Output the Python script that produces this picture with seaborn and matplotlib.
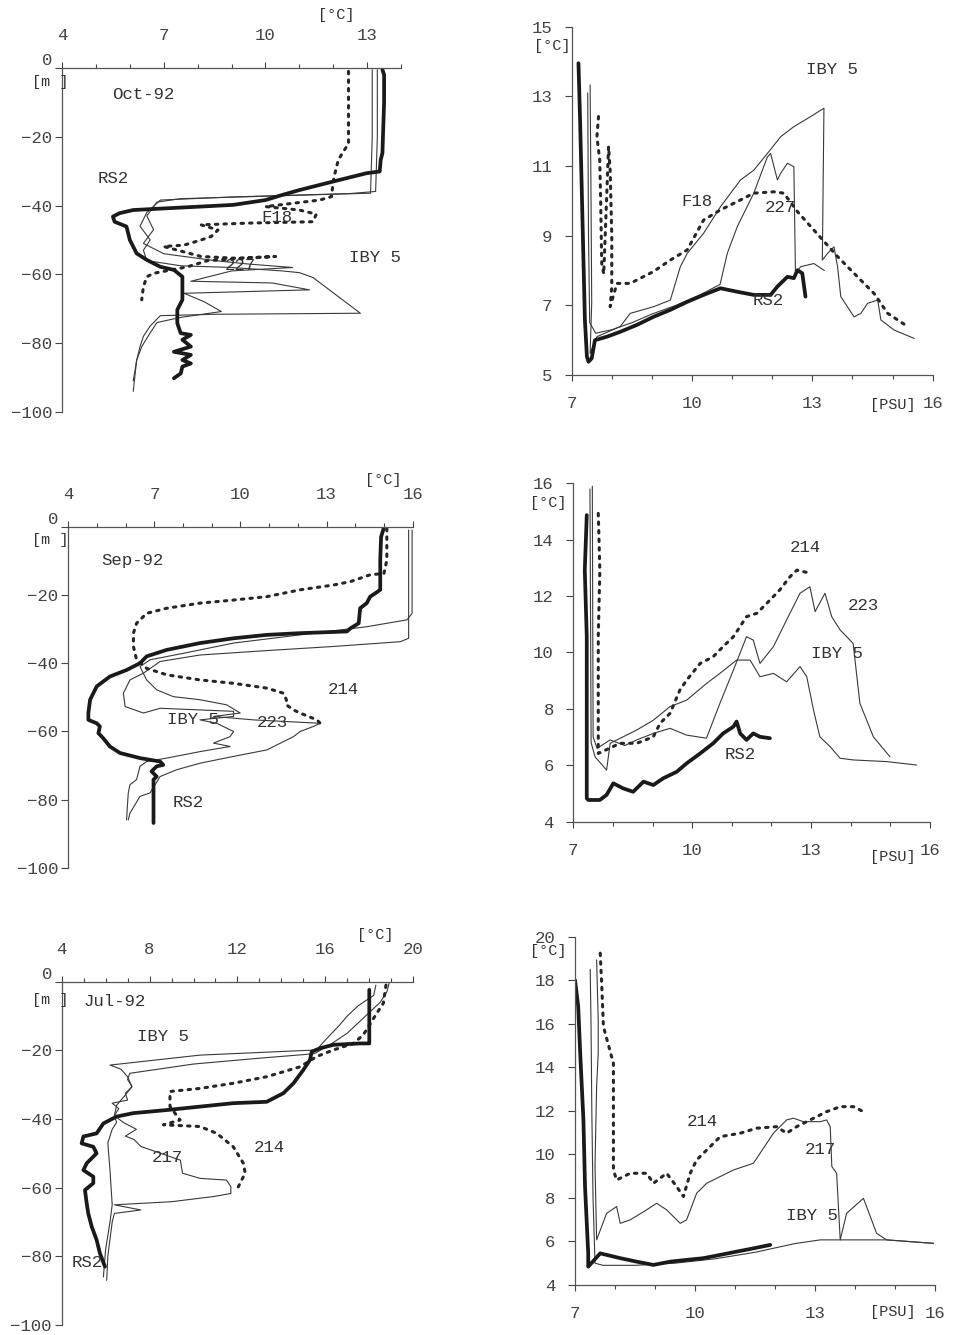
import numpy as np
import pandas as pd
import matplotlib
matplotlib.use("Agg")
import matplotlib.pyplot as plt
import seaborn as sns

sns.set_style("ticks")
plt.rcParams['font.family'] = ['Liberation Mono', 'DejaVu Sans']
plt.rcParams['text.color'] = '#333333'
plt.rcParams['xtick.color'] = '#444444'
plt.rcParams['ytick.color'] = '#444444'

# ---------------- Temperature profiles (T [degC], depth [m]) ----------------
# Oct-92
OCT_RS2_T = [13.45, 13.5, 13.5, 13.45, 13.4, 13.37, 12.98, 12.0, 11.0, 10.5, 10.0, 9.05, 8.07, 7.08, 6.1, 5.7,
             5.5, 5.55, 5.9, 6.0, 6.2, 6.5, 6.9, 7.3, 7.55, 7.55, 7.4, 7.4, 7.5, 7.8, 7.55, 7.8, 7.3, 7.8,
             7.55, 7.8, 7.55, 7.5, 7.3]
OCT_RS2_D = [-0.5, -2, -10, -24.8, -26.7, -30.1, -30.6, -33, -35.5, -36.9, -38.4, -39.8, -40.3, -40.8, -41.3,
             -42.2, -43.2, -44.7, -46.1, -50, -53.9, -55.8, -57.8, -58.7, -60.7, -67.4, -70.3, -74.2, -77.1,
             -77.6, -79, -81, -82.5, -83.4, -84.9, -85.9, -86.8, -88.8, -90.2]
OCT_F18_T = [12.45, 12.45, 12.3, 12.15, 12.05, 12.0, 11.95, 11.6, 10.0, 11.0, 11.5, 11.4, 9.5, 8.1, 8.6,
             8.4, 8.1, 7.6, 7.0, 8.1, 9.1, 10.3, 8.3, 7.7, 6.7, 6.5, 6.4, 6.35]
OCT_F18_D = [-1, -22, -24.3, -26.7, -30.6, -33, -37.4, -38.4, -40.3, -41.3, -42.5, -44.7, -45.1, -45.6, -47.1,
             -49, -50, -51.5, -51.9, -54.8, -55.3, -54.8, -56, -57.8, -59.7, -60.7, -63.6, -67.4]
OCT_IBY5_T = [13.3, 13.3, 13.25, 12.5, 9.0, 6.9, 6.5, 6.3, 6.6, 6.4, 6.5, 7.5, 9.0, 10.5, 11.0, 11.4, 12.8,
              8.5, 6.9, 6.6, 6.4, 6.3, 6.2, 6.1]
OCT_IBY5_D = [-0.5, -20, -35.9, -36.5, -37.5, -38.4, -42, -46, -50, -53, -56, -57.5, -58, -59, -59.5, -60.9,
              -71.3, -71.6, -72, -75, -78, -81, -85, -91]
OCT_227_T = [13.15, 13.15, 13.1, 11.0, 7.5, 6.8, 6.5, 6.7, 6.4, 7.0, 8.5, 9.5, 10.8, 9.0, 7.8, 10.2, 11.3,
             7.6, 8.2, 8.7, 7.5, 6.8, 6.6, 6.35, 6.2, 6.1]
OCT_227_D = [-0.5, -20, -36.4, -37, -38, -39, -43, -47, -51, -54, -56, -57, -58, -59, -62, -62.5, -64.5,
             -65.5, -68, -70.8, -72.5, -74, -77, -81, -85, -94]

# Sep-92
SEP_RS2_T = [14.99, 14.9, 14.87, 14.87, 14.7, 14.52, 14.4, 14.17, 14.12, 13.83, 13.71, 12.08, 10.92, 9.76,
             8.59, 7.43, 6.73, 6.5, 6.03, 5.45, 4.99, 4.76, 4.7, 4.7, 4.99, 5.1, 5.05, 5.22, 5.45, 5.8, 6.5,
             7.2, 7.31, 7.08, 6.9, 7.08, 6.97, 6.97, 6.97]
SEP_RS2_D = [-0.5, -3, -9.8, -18.5, -19.5, -20.5, -22.4, -23.9, -28.3, -29.8, -30.7, -31.2, -31.7, -32.7,
             -34.1, -36.1, -38, -40, -42, -43.9, -46.8, -50.7, -54.6, -56.6, -57.6, -58.5, -60.5, -62, -64.4,
             -66.3, -67.8, -68.8, -69.8, -70.2, -71.7, -73.2, -74.1, -78, -86.8]
SEP_214_T = [15.1, 15.1, 15.0, 14.52, 13.83, 13.24, 12.08, 10.92, 9.76, 8.59, 7.43, 6.73, 6.38, 6.27, 6.27,
             6.38, 6.73, 7.43, 8.59, 9.76, 10.92, 11.5, 11.6, 11.6, 11.85, 12.08, 12.66, 12.78, 12.66]
SEP_214_D = [-0.5, -9.8, -13.7, -14.1, -16.1, -17.1, -18.5, -20.5, -21.5, -22.4, -23.9, -25.4, -28.3, -31.2,
             -35.1, -39, -41.5, -43.4, -44.9, -45.9, -47.3, -48.8, -50.7, -52.2, -53.7, -54.6, -56.6, -57.6,
             -58.5]
SEP_223_T = [15.98, 15.98, 15.8, 14.41, 12.08, 9.76, 8.01, 6.85, 6.5, 6.73, 7.08, 7.66, 8.59, 9.52, 9.99,
             9.06, 10.45, 12.78, 12.55, 12.08, 11.85, 10.92, 9.76, 8.59, 7.78, 7.2, 6.85, 6.5, 6.15, 6.09]
SEP_223_D = [-1, -25.4, -27.3, -29.3, -31.7, -34.1, -37.1, -39.0, -41, -44.9, -47.8, -49.8, -50.7, -52.2,
             -54.6, -55.6, -56.6, -57.6, -58.5, -60, -61.5, -65.4, -67.3, -69.3, -71.2, -73.2, -78, -79,
             -83.9, -85.9]
SEP_IBY5_T = [15.86, 15.86, 15.57, 13.24, 10.92, 8.59, 7.2, 6.62, 6.15, 5.92, 5.98, 6.62, 7.2, 9.76, 9.76,
              8.59, 9.17, 9.76, 9.64, 9.06, 9.64, 8.59, 7.43, 6.73, 6.5, 6.38, 6.15, 6.09, 6.03]
SEP_IBY5_D = [-1, -32.7, -33.7, -35.1, -36.3, -37.6, -39.5, -42.9, -44.9, -48.8, -52.7, -54.6, -53.2, -54.1,
              -55.6, -56.6, -57.6, -60, -61.5, -63.4, -64.4, -65.9, -67.8, -68.8, -70.2, -74.1, -75.6, -78,
              -85.9]

# Jul-92
JUL_RS2_T = [18.0, 18.0, 17.58, 16.37, 15.76, 15.38, 15.3, 15.0, 14.55, 14.09, 13.33, 11.81, 10.3, 8.78,
             7.26, 6.5, 5.9, 5.59, 4.99, 4.91, 5.44, 5.59, 5.14, 4.99, 5.44, 5.44, 5.06, 5.14, 5.21, 5.37,
             5.59, 5.74, 5.97]
JUL_RS2_D = [-2.4, -18, -18, -18.4, -19.4, -20.4, -22.8, -25.7, -29.6, -32.5, -35, -35.4, -36.4, -37.4,
             -38.3, -39.3, -41.3, -44.2, -45.1, -47.1, -48.1, -50, -52.9, -54.9, -56.8, -58.7, -60.7, -64.6,
             -67.5, -71.4, -75.2, -79.1, -83]
JUL_214_T = [18.76, 18.64, 18.34, 17.96, 17.73, 17.28, 16.37, 15.61, 14.85, 13.33, 11.81, 10.3, 8.93, 8.93,
             9.39, 8.63, 10.3, 11.06, 11.81, 12.27, 12.35, 12.12, 11.97]
JUL_214_D = [-1, -6.3, -9.2, -13.1, -15.5, -18, -19.9, -21.8, -24.8, -27.7, -29.6, -31.1, -32, -36.4, -40.3,
             -41.7, -42.2, -44.2, -48.1, -52.9, -55.8, -58.7, -60.7]
JUL_IBY5_T = [18.3, 18.2, 17.5, 17.0, 16.6, 16.0, 15.6, 10.3, 6.2, 6.7, 7.0, 7.2, 6.9, 7.0, 6.3, 6.6, 6.4,
              6.5, 6.3, 6.1, 6.2, 6.3, 6.2, 6.0, 5.9]
JUL_IBY5_D = [-1, -4, -7, -10, -13, -17, -19.9, -21.4, -24.3, -25.5, -27.7, -30.6, -32.5, -34.5, -35.4, -37,
              -39, -41, -43, -47, -55, -65, -70, -78, -86]
JUL_217_T = [18.9, 18.8, 18.5, 18.0, 17.5, 17.0, 16.3, 15.5, 13.0, 10.0, 7.1, 7.0, 7.2, 6.9, 6.5, 6.4, 6.8,
             7.4, 6.9, 7.3, 7.6, 8.5, 9.4, 9.5, 10.3, 11.5, 11.7, 11.7, 10.9, 9.0, 6.4, 7.6, 6.4, 6.3, 6.2,
             6.1, 6.05]
JUL_217_D = [-0.5, -3, -6, -9, -12, -15, -18, -21, -22.3, -24, -26.7, -28.5, -30.6, -33, -36, -39, -41, -43,
             -45, -46, -48, -50, -52, -55.8, -57.3, -57.8, -59.7, -61.7, -62.6, -64.1, -65, -66.5, -67.5,
             -70, -75, -80, -87]

# ---------------- T-S diagrams (S [PSU], T [degC]) ----------------
OCT_TS_RS2_S = [7.17, 7.21, 7.25, 7.29, 7.33, 7.38, 7.42, 7.5, 7.58, 7.88, 8.21, 8.63, 9.04, 9.46, 9.88,
                10.29, 10.71, 11.13, 11.54, 11.96, 12.13, 12.38, 12.54, 12.63, 12.75, 12.83]
OCT_TS_RS2_T = [13.95, 12.32, 10.41, 8.49, 6.58, 5.53, 5.38, 5.48, 6.0, 6.1, 6.24, 6.44, 6.67, 6.87, 7.1,
                7.3, 7.49, 7.39, 7.3, 7.3, 7.54, 7.82, 7.78, 8.01, 7.92, 7.25]
OCT_TS_F18_S = [7.67, 7.63, 7.7, 7.72, 7.75, 7.8, 7.92, 7.96, 8.0, 8.0, 7.96, 8.13, 8.46, 9.04, 9.46, 9.88,
                10.29, 10.71, 11.13, 11.54, 12.04, 12.29, 12.63, 13.04, 13.63, 14.04, 14.54, 14.88, 15.38]
OCT_TS_F18_T = [12.42, 11.84, 11.17, 10.2, 8.2, 7.9, 11.56, 10.88, 9.0, 7.54, 6.96, 7.63, 7.63, 7.97, 8.3,
                8.59, 9.45, 9.74, 9.98, 10.22, 10.26, 10.22, 9.69, 9.16, 8.4, 7.92, 7.34, 6.77, 6.39]
OCT_TS_IBY5_S = [7.46, 7.48, 7.5, 7.46, 7.63, 8.21, 8.46, 9.04, 9.46, 9.71, 9.88, 10.29, 10.71, 11.21, 11.54,
                 11.88, 12.21, 12.54, 12.96, 13.29, 13.25, 13.38, 13.54, 13.63, 13.71, 14.04, 14.21, 14.38,
                 14.63, 14.71, 15.04, 15.54]
OCT_TS_IBY5_T = [13.33, 10.5, 7.06, 5.62, 6.1, 6.39, 6.77, 6.96, 7.15, 8.11, 8.49, 9.07, 9.83, 10.6, 10.88,
                 11.36, 11.84, 12.13, 12.42, 12.66, 8.3, 8.49, 8.68, 8.11, 7.25, 6.67, 6.77, 7.06, 7.15, 6.58,
                 6.29, 6.05]
OCT_TS_227_S = [7.4, 7.42, 7.45, 7.6, 8.0, 8.5, 9.0, 9.6, 10.2, 10.7, 10.88, 11.13, 11.54, 11.88, 11.96,
                12.13, 12.21, 12.38, 12.54, 12.58, 12.71, 13.04, 13.3]
OCT_TS_227_T = [13.1, 9.0, 6.5, 6.2, 6.3, 6.5, 6.75, 7.0, 7.3, 7.6, 8.49, 9.26, 10.22, 11.26, 11.36, 10.6,
                10.79, 11.08, 10.98, 7.92, 8.11, 8.2, 8.0]

SEP_TS_RS2_S = [7.34, 7.29, 7.34, 7.34, 7.34, 7.38, 7.67, 7.84, 8.01, 8.26, 8.51, 8.77, 9.02, 9.27, 9.61,
                9.86, 10.2, 10.53, 10.78, 11.04, 11.12, 11.21, 11.37, 11.54, 11.71, 11.96]
SEP_TS_RS2_T = [14.87, 12.92, 10.56, 8.2, 4.83, 4.77, 4.77, 4.95, 5.36, 5.18, 5.06, 5.42, 5.3, 5.54, 5.77,
                6.07, 6.42, 6.78, 7.13, 7.37, 7.55, 7.13, 6.9, 7.13, 7.01, 6.96]
SEP_TS_214_S = [7.63, 7.67, 7.63, 7.63, 7.63, 8.18, 8.6, 9.02, 9.19, 9.44, 9.69, 9.86, 10.2, 10.53, 10.78,
                11.04, 11.37, 11.63, 11.88, 12.21, 12.47, 12.64, 12.8, 12.97]
SEP_TS_214_T = [14.93, 12.92, 10.56, 7.13, 6.42, 6.78, 6.78, 7.01, 7.49, 7.84, 8.67, 9.02, 9.61, 9.85, 10.21,
                10.56, 11.27, 11.39, 11.74, 12.22, 12.69, 12.92, 12.87, 12.81]
SEP_TS_223_S = [7.48, 7.5, 7.6, 7.93, 8.3, 8.6, 9.02, 9.44, 9.86, 10.36, 10.7, 11.04, 11.37, 11.54, 11.71,
                12.05, 12.38, 12.72, 12.97, 13.1, 13.35, 13.52, 13.73, 14.06, 14.23, 14.57, 14.99]
SEP_TS_223_T = [15.9, 7.01, 6.6, 6.9, 6.7, 6.9, 7.13, 7.31, 7.07, 6.96, 8.2, 9.38, 10.56, 10.44, 9.61, 10.21,
                11.15, 12.1, 12.33, 11.45, 12.1, 11.27, 10.8, 10.32, 8.2, 7.01, 6.3]
SEP_TS_IBY5_S = [7.42, 7.45, 7.55, 7.84, 7.93, 8.6, 9.02, 9.44, 9.86, 10.36, 10.7, 11.12, 11.46, 11.71, 12.05,
                 12.38, 12.72, 12.89, 13.06, 13.22, 13.48, 13.73, 14.06, 14.91, 15.66]
SEP_TS_IBY5_T = [15.8, 6.8, 6.3, 5.83, 6.78, 7.25, 7.6, 8.08, 8.31, 8.9, 9.26, 9.73, 9.73, 9.14, 9.26, 8.96,
                 9.5, 9.14, 7.96, 7.01, 6.66, 6.25, 6.19, 6.13, 6.01]

JUL_TS_RS2_S = [6.95, 7.0, 7.08, 7.13, 7.21, 7.25, 7.33, 7.33, 7.63, 8.13, 8.54, 8.96, 9.38, 9.79, 10.21,
                10.63, 11.04, 11.46, 11.88]
JUL_TS_RS2_T = [18.0, 18.0, 16.79, 14.64, 11.58, 8.52, 5.45, 4.84, 5.45, 5.23, 5.07, 4.92, 5.07, 5.15, 5.23,
                5.38, 5.53, 5.68, 5.84]
JUL_TS_214_S = [7.63, 7.67, 7.71, 7.96, 7.96, 8.04, 8.38, 8.79, 8.96, 9.29, 9.54, 9.71, 9.88, 10.04, 10.21,
                10.63, 11.13, 11.54, 12.04, 12.29, 12.54, 12.88, 13.29, 13.63, 13.96, 14.21]
JUL_TS_214_T = [19.24, 17.7, 15.87, 14.18, 9.28, 8.82, 9.13, 9.13, 8.67, 9.13, 8.52, 8.06, 9.13, 9.74, 10.05,
                10.81, 10.97, 11.2, 11.27, 10.97, 11.27, 11.58, 11.96, 12.19, 12.19, 11.96]
JUL_TS_217_S = [7.54, 7.58, 7.58, 7.54, 7.5, 7.54, 7.79, 8.04, 8.13, 8.38, 8.79, 9.04, 9.29, 9.63, 9.79,
                10.04, 10.29, 10.96, 11.46, 11.96, 12.29, 12.46, 12.71, 13.13, 13.29, 13.38, 13.42, 13.54,
                13.63, 13.79, 14.21, 14.54, 14.79, 15.96]
JUL_TS_217_T = [18.93, 16.17, 14.64, 13.11, 9.5, 6.07, 7.29, 7.6, 6.83, 6.99, 7.45, 7.75, 7.45, 6.83, 6.99,
                8.21, 8.67, 9.28, 9.59, 10.97, 11.58, 11.66, 11.5, 11.5, 11.58, 11.27, 9.44, 9.13, 6.07, 7.29,
                7.98, 6.37, 6.07, 5.91]
JUL_TS_IBY5_S = [7.38, 7.4, 7.42, 7.45, 7.5, 7.7, 8.5, 9.5, 10.5, 11.5, 12.5, 13.13, 14.79, 15.96]
JUL_TS_IBY5_T = [18.5, 16.0, 12.0, 8.0, 5.0, 4.9, 4.9, 5.0, 5.2, 5.5, 5.9, 6.07, 6.07, 5.91]

STYLES = {
    'thin': dict(color='#3a3a3a', linewidth=0.8),
    'dot': dict(color='#262626', linewidth=2.2, linestyle=(0, (0.8, 2.0)), dash_capstyle='round'),
    'thick': dict(color='#1a1a1a', linewidth=2.7, solid_joinstyle='round'),
}

TICK_FS = 12.5
UNIT_FS = 11


def draw(ax, x, y, kind):
    df = pd.DataFrame({'x': x, 'y': y})
    sns.lineplot(data=df, x='x', y='y', sort=False, estimator=None, ax=ax, legend=False, **STYLES[kind])


def style_profile(ax, xmax, step):
    ax.set_xlim(4, xmax)
    ax.set_ylim(-100, 0)
    ax.xaxis.tick_top()
    ax.set_xticks(np.arange(4, xmax + 0.1, step))
    ax.set_xticks(np.arange(4, xmax + 0.1, 1), minor=True)
    ax.set_yticks(np.arange(-100, 1, 20))
    for s in ('right', 'bottom'):
        ax.spines[s].set_visible(False)
    for s in ('top', 'left'):
        ax.spines[s].set_color('#555555')
        ax.spines[s].set_linewidth(0.9)
    ax.tick_params(axis='x', which='major', direction='out', length=4, pad=14, labelsize=TICK_FS, width=0.8)
    ax.tick_params(axis='x', which='minor', direction='out', length=3, width=0.8)
    ax.tick_params(axis='y', direction='out', length=5, pad=2, labelsize=TICK_FS, width=0.8)
    for t in ax.get_yticklabels():
        if t.get_text() in ('0',):
            t.set_verticalalignment('bottom')
    ax.set_xlabel('')
    ax.set_ylabel('')


def style_ts(ax, ymin, ymax):
    ax.set_xlim(7, 16)
    ax.set_ylim(ymin, ymax)
    ax.set_xticks([7, 10, 13, 16])
    ax.set_xticks(np.arange(7, 16.1, 1), minor=True)
    ax.set_yticks(np.arange(ymin, ymax + 0.1, 2))
    for s in ('right', 'top'):
        ax.spines[s].set_visible(False)
    for s in ('bottom', 'left'):
        ax.spines[s].set_color('#555555')
        ax.spines[s].set_linewidth(0.9)
    ax.tick_params(axis='x', which='major', direction='out', length=4, pad=11, labelsize=TICK_FS, width=0.8)
    ax.tick_params(axis='x', which='minor', direction='out', length=3, width=0.8)
    ax.tick_params(axis='y', direction='out', length=5, pad=9, labelsize=TICK_FS, width=0.8)
    ax.set_xlabel('')
    ax.set_ylabel('')


def label(ax, x, y, s, size=12.5):
    ax.text(x, y, s, ha='center', va='center', fontsize=size, color='#333333', clip_on=False)


fig = plt.figure(figsize=(9.59, 13.35), dpi=100)
axA = fig.add_axes([0.0647, 0.6914, 0.3535, 0.2577])
axB = fig.add_axes([0.0712, 0.3498, 0.3591, 0.2557])
axC = fig.add_axes([0.0643, 0.0075, 0.3666, 0.2572])
axD = fig.add_axes([0.5961, 0.7191, 0.3764, 0.2609])
axE = fig.add_axes([0.5978, 0.3845, 0.3720, 0.2535])
axF = fig.add_axes([0.5996, 0.0375, 0.3754, 0.2609])

# --- Oct profile ---
draw(axA, OCT_IBY5_T, OCT_IBY5_D, 'thin')
draw(axA, OCT_227_T, OCT_227_D, 'thin')
draw(axA, OCT_F18_T, OCT_F18_D, 'dot')
draw(axA, OCT_RS2_T, OCT_RS2_D, 'thick')
style_profile(axA, 14, 3)
label(axA, 6.39, -7.8, 'Oct-92')
label(axA, 5.5, -32, 'RS2')
label(axA, 10.34, -43.6, 'F18')
label(axA, 9.25, -57.3, '227')
label(axA, 13.22, -55, 'IBY 5')
label(axA, 12.1, 15.4, '[°C]', UNIT_FS)
label(axA, 3.65, -4.0, '[m ]', UNIT_FS)

# --- Sep profile ---
draw(axB, SEP_IBY5_T, SEP_IBY5_D, 'thin')
draw(axB, SEP_223_T, SEP_223_D, 'thin')
draw(axB, SEP_214_T, SEP_214_D, 'dot')
draw(axB, SEP_RS2_T, SEP_RS2_D, 'thick')
style_profile(axB, 16, 3)
label(axB, 6.25, -9.8, 'Sep-92')
label(axB, 13.57, -47.8, '214')
label(axB, 8.35, -56.6, 'IBY 5')
label(axB, 11.1, -57.5, '223')
label(axB, 8.17, -80.9, 'RS2')
label(axB, 14.96, 13.7, '[°C]', UNIT_FS)
label(axB, 3.36, -4.0, '[m ]', UNIT_FS)

# --- Jul profile ---
draw(axC, JUL_IBY5_T, JUL_IBY5_D, 'thin')
draw(axC, JUL_217_T, JUL_217_D, 'thin')
draw(axC, JUL_214_T, JUL_214_D, 'dot')
draw(axC, JUL_RS2_T, JUL_RS2_D, 'thick')
style_profile(axC, 20, 4)
label(axC, 6.42, -5.9, 'Jul-92')
label(axC, 8.61, -16.1, 'IBY 5')
label(axC, 13.47, -48.2, '214')
label(axC, 8.79, -51.1, '217')
label(axC, 5.15, -81.9, 'RS2')
label(axC, 18.25, 13.6, '[°C]', UNIT_FS)
label(axC, 3.47, -5.3, '[m ]', UNIT_FS)

# --- Oct T-S ---
draw(axD, OCT_TS_IBY5_S, OCT_TS_IBY5_T, 'thin')
draw(axD, OCT_TS_227_S, OCT_TS_227_T, 'thin')
draw(axD, OCT_TS_F18_S, OCT_TS_F18_T, 'dot')
draw(axD, OCT_TS_RS2_S, OCT_TS_RS2_T, 'thick')
style_ts(axD, 5, 15)
label(axD, 13.49, 13.76, 'IBY 5')
label(axD, 10.12, 9.97, 'F18')
label(axD, 12.19, 9.8, '227')
label(axD, 11.9, 7.15, 'RS2')
label(axD, 6.51, 14.45, '[°C]', UNIT_FS)
label(axD, 15.0, 4.14, '[PSU]', UNIT_FS)

# --- Sep T-S ---
draw(axE, SEP_TS_IBY5_S, SEP_TS_IBY5_T, 'thin')
draw(axE, SEP_TS_223_S, SEP_TS_223_T, 'thin')
draw(axE, SEP_TS_214_S, SEP_TS_214_T, 'dot')
draw(axE, SEP_TS_RS2_S, SEP_TS_RS2_T, 'thick')
style_ts(axE, 4, 16)
label(axE, 12.85, 13.74, '214')
label(axE, 14.31, 11.68, '223')
label(axE, 13.65, 9.98, 'IBY 5')
label(axE, 11.21, 6.37, 'RS2')
label(axE, 6.36, 15.3, '[°C]', UNIT_FS)
label(axE, 15.07, 2.75, '[PSU]', UNIT_FS)

# --- Jul T-S ---
draw(axF, JUL_TS_IBY5_S, JUL_TS_IBY5_T, 'thin')
draw(axF, JUL_TS_217_S, JUL_TS_217_T, 'thin')
draw(axF, JUL_TS_214_S, JUL_TS_214_T, 'dot')
draw(axF, JUL_TS_RS2_S, JUL_TS_RS2_T, 'thick')
style_ts(axF, 4, 20)
label(axF, 10.18, 11.49, '214')
label(axF, 13.13, 10.2, '217')
label(axF, 12.93, 7.2, 'IBY 5')
label(axF, 6.33, 19.35, '[°C]', UNIT_FS)
label(axF, 14.95, 2.76, '[PSU]', UNIT_FS)

fig.savefig('out.png', dpi=100, facecolor='white')
